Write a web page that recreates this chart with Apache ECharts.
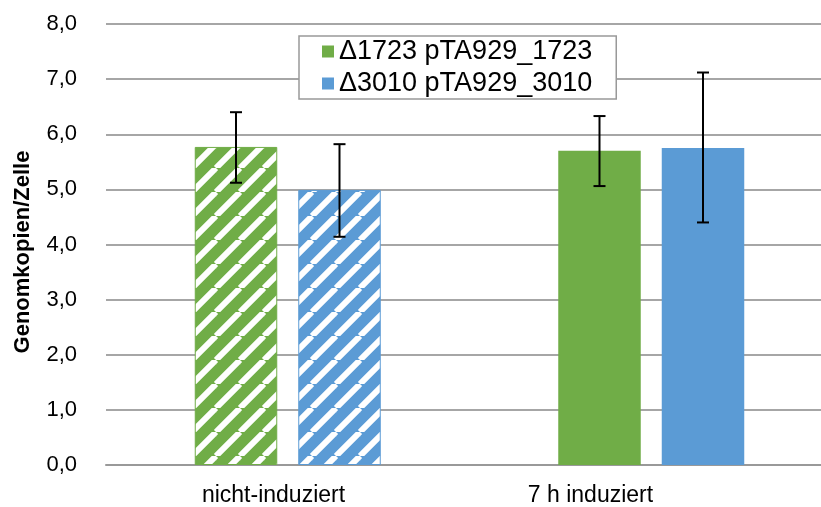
<!DOCTYPE html>
<html>
<head>
<meta charset="utf-8">
<script src="https://cdn.jsdelivr.net/npm/echarts@6/dist/echarts.min.js"></script>
<style>
  html, body { margin: 0; padding: 0; background: #fff; overflow: hidden; }
  #chart { width: 840px; height: 507px; }
</style>
</head>
<body>
<div id="chart"></div>
<script>
// Genome copies per cell, uninduced vs. 7 h induced
const categories = ['nicht-induziert', '7 h induziert'];
const seriesNames = ['\u03941723 pTA929_1723', '\u03943010 pTA929_3010'];
const values1723 = [5.77, 5.70];
const values3010 = [4.99, 5.75];
const errLow1723 = [5.12, 5.06];
const errHigh1723 = [6.40, 6.33];
const errLow3010 = [4.14, 4.40];
const errHigh3010 = [5.82, 7.12];
const yTicks = [0, 1, 2, 3, 4, 5, 6, 7, 8];
const yTitle = 'Genomkopien/Zelle';

const GREEN = '#70AD47';
const BLUE = '#5B9BD5';
const FONT = 'Liberation Sans, Arial, sans-serif';
const BAR_W = 82.5;
const BAR_GAP = 21;

// diagonal white stripes on a coloured tile
function stripes(base) {
  const s = 24;
  const c = document.createElement('canvas');
  c.width = s; c.height = s;
  const g = c.getContext('2d');
  g.fillStyle = base;
  g.fillRect(0, 0, s, s);
  g.strokeStyle = '#fff';
  g.lineWidth = 6;
  for (const x0 of [-s, 0, s]) {
    g.beginPath();
    g.moveTo(x0, s);
    g.lineTo(x0 + s, 0);
    g.stroke();
  }
  return { image: c, repeat: 'repeat' };
}

function barData(vals, base) {
  return vals.map((v, i) => i === 0
    ? { value: v, itemStyle: { color: stripes(base), borderColor: base, borderWidth: 1 } }
    : v);
}

function errorSeries(low, high, shift) {
  return {
    type: 'custom',
    z: 5,
    xAxisIndex: 0,
    yAxisIndex: 0,
    data: low.map((l, i) => [i, l, high[i]]),
    renderItem: function (params, api) {
      const lo = api.coord([api.value(0), api.value(1)]);
      const hi = api.coord([api.value(0), api.value(2)]);
      const x = lo[0] + shift;
      const cap = 6;
      const st = { stroke: '#000', lineWidth: 2 };
      return {
        type: 'group',
        children: [
          { type: 'line', shape: { x1: x, y1: lo[1], x2: x, y2: hi[1] }, style: st },
          { type: 'line', shape: { x1: x - cap, y1: lo[1], x2: x + cap, y2: lo[1] }, style: st },
          { type: 'line', shape: { x1: x - cap, y1: hi[1], x2: x + cap, y2: hi[1] }, style: st }
        ]
      };
    }
  };
}

const chart = echarts.init(document.getElementById('chart'), null, { renderer: 'canvas' });
const half = (BAR_W + BAR_GAP) / 2;

chart.setOption({
  animation: false,
  backgroundColor: '#fff',
  textStyle: { fontFamily: FONT },
  grid: [
    { left: 106, top: 24, width: 727, height: 441, containLabel: false },
    // second grid only carries the category labels
    { left: 115, top: 24, width: 634, height: 441, containLabel: false }
  ],
  legend: {
    data: seriesNames,
    orient: 'vertical',
    left: 299,
    top: 36,
    padding: [2, 24, 2, 23],
    itemGap: 5,
    itemWidth: 12,
    itemHeight: 12,
    icon: 'rect',
    borderColor: '#999',
    borderWidth: 1.5,
    backgroundColor: '#fff',
    textStyle: { fontSize: 27, color: '#000', fontFamily: FONT }
  },
  graphic: [{
    type: 'text',
    x: 23,
    y: 252,
    rotation: Math.PI / 2,
    style: {
      text: yTitle,
      font: 'bold 22px ' + FONT,
      fill: '#000',
      align: 'center',
      verticalAlign: 'middle'
    }
  }],
  xAxis: [
    {
      type: 'category',
      gridIndex: 0,
      data: categories,
      axisLine: { lineStyle: { color: '#999', width: 2 } },
      axisTick: { show: false },
      axisLabel: { show: false }
    },
    {
      type: 'category',
      gridIndex: 1,
      data: categories,
      axisLine: { show: false },
      axisTick: { show: false },
      axisLabel: { fontSize: 23, color: '#000', margin: 23, fontFamily: FONT }
    }
  ],
  yAxis: [
    {
      type: 'value',
      gridIndex: 0,
      min: yTicks[0],
      max: yTicks[yTicks.length - 1],
      interval: 1,
      axisLine: { show: false },
      axisTick: { show: false },
      splitLine: { lineStyle: { color: '#a6a6a6', width: 2 } },
      axisLabel: {
        fontSize: 22, color: '#000', margin: 29, fontFamily: FONT,
        formatter: v => v.toFixed(1).replace('.', ',')
      }
    },
    {
      type: 'value',
      gridIndex: 1,
      min: yTicks[0],
      max: yTicks[yTicks.length - 1],
      interval: 1,
      show: false,
      splitLine: { show: false }
    }
  ],
  series: [
    {
      name: seriesNames[0],
      type: 'bar',
      xAxisIndex: 0,
      yAxisIndex: 0,
      barWidth: BAR_W,
      barGap: (BAR_GAP / BAR_W * 100) + '%',
      itemStyle: { color: GREEN },
      data: barData(values1723, GREEN)
    },
    {
      name: seriesNames[1],
      type: 'bar',
      xAxisIndex: 0,
      yAxisIndex: 0,
      barWidth: BAR_W,
      itemStyle: { color: BLUE },
      data: barData(values3010, BLUE)
    },
    errorSeries(errLow1723, errHigh1723, -half),
    errorSeries(errLow3010, errHigh3010, half)
  ]
});
</script>
</body>
</html>
